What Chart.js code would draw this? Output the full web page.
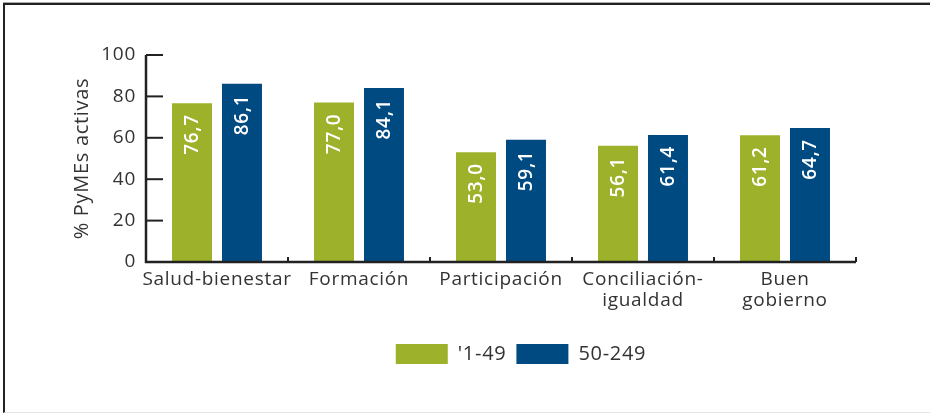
<!DOCTYPE html>
<html lang="es">
<head>
<meta charset="utf-8">
<title>PyMEs activas por tamaño</title>
<script src="https://cdn.jsdelivr.net/npm/chart.js@4.4.1/dist/chart.umd.min.js"></script>
<style>
    html, body { margin: 0; padding: 0; background: #fff; }
    .wrap { position: relative; width: 930px; height: 414px; overflow: hidden; }
    .frame {
        position: absolute; left: 3px; top: 3px; right: -4px; bottom: 1px;
        border-left: 2px solid #222; border-top: 2px solid #222;
        border-bottom: 1px solid #e4e4e4;
        box-shadow: 0 -1px 0 #aaa;
        pointer-events: none;
    }
    canvas { position: absolute; left: 0; top: 0; }
</style>
</head>
<body>
<div class="wrap">
    <canvas id="pymesChart" width="930" height="414"></canvas>
    <div class="frame"></div>
</div>
<script>
// Categorías y porcentajes por tamaño de empresa
const categorias = ['Salud-bienestar', 'Formación', 'Participación', ['Conciliación-', 'igualdad'], ['Buen', 'gobierno']];
const serie1a49 = [76.7, 77.0, 53.0, 56.1, 61.2];
const serie50a249 = [86.1, 84.1, 59.1, 61.4, 64.7];
const ticksY = [0, 20, 40, 60, 80, 100];

const VERDE = '#9db22a';
const AZUL = '#004a82';
const TEXTO = '#333333';
const FUENTE = '"Open Sans", sans-serif';
const ESPACIADO = '0.7px';

// Texto un poco más espaciado en todo el gráfico
const espaciadoPlugin = {
    id: 'espaciado',
    beforeUpdate(chart) { chart.ctx.letterSpacing = ESPACIADO; },
    beforeDraw(chart) { chart.ctx.letterSpacing = ESPACIADO; }
};

// Ejes con marcas hacia dentro
const ejesPlugin = {
    id: 'ejes',
    afterDatasetsDraw(chart) {
        const { ctx, chartArea, scales } = chart;
        const x = scales.x, y = scales.y;
        const y0 = y.getPixelForValue(0);
        ctx.save();
        ctx.strokeStyle = '#222';
        ctx.lineWidth = 2.5;
        ctx.beginPath();
        ctx.moveTo(chartArea.left, y.getPixelForValue(100));
        ctx.lineTo(chartArea.left, y0);
        ctx.lineTo(chartArea.right, y0);
        ctx.stroke();

        ctx.lineWidth = 2;
        ticksY.forEach(v => {
            if (v === 0) return;
            const py = y.getPixelForValue(v);
            ctx.beginPath();
            ctx.moveTo(chartArea.left, py);
            ctx.lineTo(chartArea.left + 17, py);
            ctx.stroke();
        });

        // Separadores entre categorías
        const paso = x.getPixelForValue(1) - x.getPixelForValue(0);
        for (let i = 0; i < categorias.length; i++) {
            const px = x.getPixelForValue(i) + paso / 2;
            ctx.beginPath();
            ctx.moveTo(px, y0);
            ctx.lineTo(px, y0 - 5);
            ctx.stroke();
        }
        ctx.restore();
    }
};

// Valores girados dentro de cada barra
const valoresPlugin = {
    id: 'valores',
    afterDatasetsDraw(chart) {
        const { ctx } = chart;
        ctx.save();
        ctx.fillStyle = '#fff';
        ctx.font = '600 19px ' + FUENTE;
        ctx.textAlign = 'right';
        ctx.textBaseline = 'middle';
        chart.data.datasets.forEach((ds, di) => {
            chart.getDatasetMeta(di).data.forEach((bar, i) => {
                const txt = ds.data[i].toFixed(1).replace('.', ',');
                ctx.save();
                ctx.translate(bar.x + 1, bar.y + 11);
                ctx.rotate(-Math.PI / 2);
                ctx.fillText(txt, 0, 0);
                ctx.restore();
            });
        });
        ctx.restore();
    }
};

// Desplaza la leyenda hacia la derecha, centrada bajo el área de barras
const leyendaPlugin = {
    id: 'leyendaDesplazada',
    afterLayout(chart) {
        const d = 93;
        chart.legend.left += d;
        chart.legend.right += d;
    }
};

new Chart(document.getElementById('pymesChart'), {
    type: 'bar',
    data: {
        labels: categorias,
        datasets: [
            { label: "'1-49", data: serie1a49, backgroundColor: VERDE },
            { label: '50-249', data: serie50a249, backgroundColor: AZUL }
        ]
    },
    options: {
        responsive: false,
        animation: false,
        layout: { padding: { left: 0, right: 74, top: 55, bottom: 40 } },
        datasets: { bar: { categoryPercentage: 0.704, barPercentage: 0.8 } },
        plugins: {
            tooltip: { enabled: false },
            legend: {
                position: 'bottom',
                labels: {
                    boxWidth: 52,
                    boxHeight: 20,
                    padding: 10,
                    color: TEXTO,
                    font: { family: FUENTE, size: 20 }
                }
            }
        },
        scales: {
            x: {
                afterFit: s => { s.height = 72; },
                grid: { display: false, drawTicks: false },
                border: { display: false },
                ticks: {
                    color: TEXTO,
                    padding: 7,
                    maxRotation: 0,
                    autoSkip: false,
                    font: { family: FUENTE, size: 19, lineHeight: 1.1 }
                }
            },
            y: {
                min: 0,
                max: 100,
                afterFit: s => { s.width = 146; },
                afterBuildTicks: s => { s.ticks = ticksY.map(v => ({ value: v })); },
                grid: { display: false, drawTicks: false },
                border: { display: false },
                ticks: {
                    color: TEXTO,
                    padding: 10,
                    font: { family: FUENTE, size: 19 }
                },
                title: {
                    display: true,
                    text: '% PyMEs activas',
                    color: TEXTO,
                    padding: { top: 70, bottom: 0 },
                    font: { family: FUENTE, size: 20 }
                }
            }
        }
    },
    plugins: [espaciadoPlugin, ejesPlugin, valoresPlugin, leyendaPlugin]
});
</script>
</body>
</html>
